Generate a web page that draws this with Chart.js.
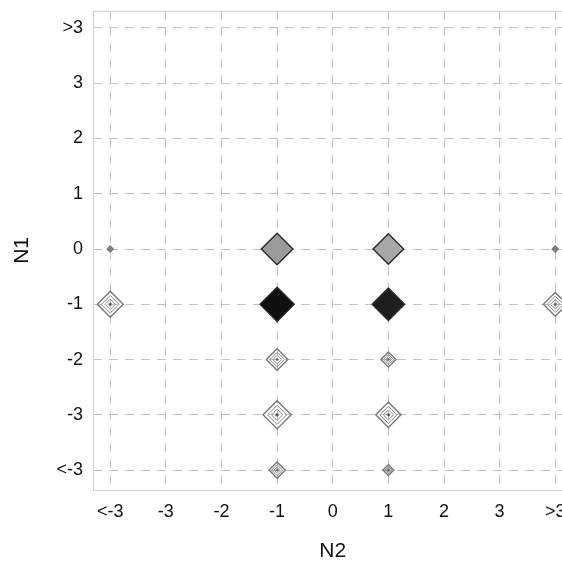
<!DOCTYPE html>
<html>
<head>
<meta charset="utf-8">
<script src="https://cdn.jsdelivr.net/npm/chart.js@4.4.1/dist/chart.umd.min.js"></script>
<style>
  html, body { margin: 0; padding: 0; background: #fff; overflow: hidden; }
  #wrap { position: absolute; left: 0; top: -10px; width: 591px; height: 578px; }
</style>
</head>
<body>
<div id="wrap"><canvas id="densityChart"></canvas></div>
<script>
// bin labels, shared by both axes
const binLabels = ["<-3", "-3", "-2", "-1", "0", "1", "2", "3", ">3"];

// occupied cells (bin label on N2, bin label on N1)
const cellN2 = ["-1", "1", "-1", "1", "-1", "1", "-1", "1", "-1", "1", "<-3", "<-3", ">3", ">3"];
const cellN1 = ["0", "0", "-1", "-1", "-2", "-2", "-3", "-3", "<-3", "<-3", "0", "-1", "0", "-1"];
// relative spread of each contour blob (0..1)
const density = [0.88, 0.85, 0.95, 0.9, 0.6, 0.42, 0.78, 0.7, 0.45, 0.3, 0.17, 0.72, 0.17, 0.66];
// peak height of each blob (0..1), drives the shading
const peak = [0.5, 0.45, 1.0, 0.95, 0.1, 0.1, 0.12, 0.12, 0.1, 0.1, 0.1, 0.1, 0.1, 0.1];

const points = cellN2.map((x, i) => ({
    x: binLabels.indexOf(x),
    y: binLabels.indexOf(cellN1[i]),
    d: density[i],
    p: peak[i]
}));

const shade = (p) => {
    if (p < 0.3) return "rgba(255,255,255,0)";
    const g = Math.round(250 - 235 * Math.pow(p, 1.3));
    return "rgb(" + g + "," + g + "," + g + ")";
};

// contour rings drawn as nested diamonds
const rings = [1, 0.68, 0.4, 0.14];
const datasets = rings.map((f, k) => ({
    label: "ring" + k,
    data: points,
    pointStyle: "rectRot",
    pointRadius: (c) => c.raw ? Math.max(1.5, 18 * c.raw.d * f) : 0,
    pointHoverRadius: (c) => c.raw ? Math.max(1.5, 18 * c.raw.d * f) : 0,
    pointBackgroundColor: (c) => {
        if (!c.raw) return "transparent";
        if (k === 0) return shade(c.raw.p);
        if (k === 3) return c.raw.p > 0.8 ? "#666" : "#555";
        return "rgba(0,0,0,0)";
    },
    pointBorderColor: (c) => {
        if (!c.raw) return "#666";
        if (k === 0) return c.raw.p > 0.3 ? "#2a2a2a" : "#777";
        if (c.raw.p > 0.8) return "#6a6a6a";
        if (c.raw.p > 0.3) return "#444";
        return "#888";
    },
    pointBorderWidth: (c) => (k === 0 ? 1.4 : 1),
    showLine: false
}));

const boxPlugin = {
    id: "box",
    beforeDatasetsDraw(chart) {
        const a = chart.chartArea, ctx = chart.ctx;
        ctx.save();
        ctx.strokeStyle = "#cfcfcf";
        ctx.lineWidth = 1;
        ctx.strokeRect(a.left + 0.5, a.top + 0.5, a.right - a.left, a.bottom - a.top);
        ctx.restore();
    }
};

const fixedTicks = (scale) => {
    scale.ticks = binLabels.map((_, i) => ({ value: i }));
};

new Chart(document.getElementById("densityChart").getContext("2d"), {
    type: "scatter",
    data: { datasets: datasets },
    options: {
        responsive: true,
        maintainAspectRatio: false,
        animation: false,
        events: [],
        layout: { padding: { top: 8, right: 8, left: 0, bottom: 0 } },
        scales: {
            x: {
                type: "linear",
                min: -0.31,
                max: 8.31,
                afterBuildTicks: fixedTicks,
                afterFit: (s) => { s.height = 78; },
                ticks: {
                    padding: 11,
                    color: "#111",
                    font: { size: 18, family: "Liberation Sans" },
                    callback: (v) => binLabels[v]
                },
                grid: { color: "#c4c4c4", drawTicks: false, lineWidth: 1 },
                border: { display: false, dash: [9, 7] },
                title: {
                    display: true,
                    text: "N2",
                    color: "#111",
                    font: { size: 21, family: "Liberation Sans" },
                    padding: { top: 4, bottom: 4 }
                }
            },
            y: {
                type: "linear",
                min: -0.36,
                max: 8.31,
                afterBuildTicks: fixedTicks,
                afterFit: (s) => { s.width = 93; },
                ticks: {
                    padding: 10,
                    color: "#111",
                    font: { size: 18, family: "Liberation Sans" },
                    callback: (v) => binLabels[v]
                },
                grid: { color: "#c4c4c4", drawTicks: false, lineWidth: 1 },
                border: { display: false, dash: [9, 7] },
                title: {
                    display: true,
                    text: "N1",
                    color: "#111",
                    font: { size: 21, family: "Liberation Sans" },
                    padding: { top: 10, bottom: 8 }
                }
            }
        },
        plugins: {
            legend: { display: false },
            tooltip: { enabled: false }
        }
    },
    plugins: [boxPlugin]
});
</script>
</body>
</html>
